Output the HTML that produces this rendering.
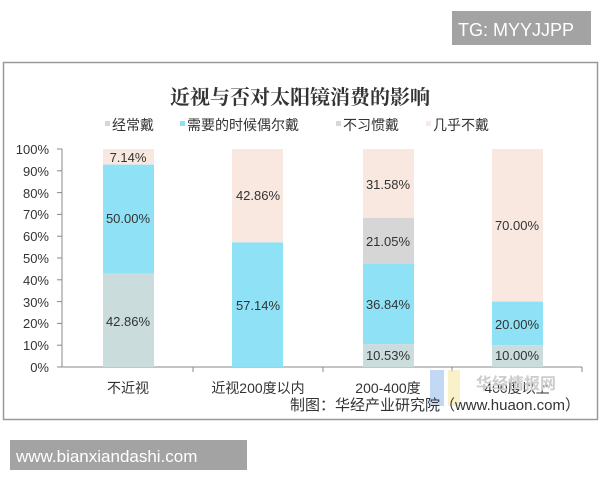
<!DOCTYPE html>
<html><head><meta charset="utf-8"><style>
body{margin:0;background:#fff;width:600px;height:480px;overflow:hidden}
</style></head><body>
<svg width="600" height="480" xmlns="http://www.w3.org/2000/svg" font-family="Liberation Sans, Noto Sans CJK SC, sans-serif">
<rect x="452" y="11" width="139" height="34" fill="#a3a3a3"/>
<text x="458" y="36" font-size="18" fill="#fff">TG: MYYJJPP</text>
<rect x="3.5" y="62.5" width="594" height="357" fill="#fff" stroke="#999" stroke-width="1.5"/>
<text x="300" y="104" font-size="20" font-weight="bold" text-anchor="middle" fill="#333" font-family="Liberation Serif, Noto Serif CJK SC, serif">近视与否对太阳镜消费的影响</text>
<g font-size="14" fill="#333">
<rect x="105" y="121" width="5" height="5" fill="#d0d8d8"/><text x="112" y="130">经常戴</text>
<rect x="180" y="121" width="5" height="5" fill="#8fdff2"/><text x="187" y="130">需要的时候偶尔戴</text>
<rect x="336" y="121" width="5" height="5" fill="#d8d8d8"/><text x="343" y="130">不习惯戴</text>
<rect x="426" y="121" width="5" height="5" fill="#f6eae4"/><text x="433" y="130">几乎不戴</text>
</g>
<g font-size="13" fill="#333" text-anchor="end">
<text x="49" y="154">100%</text><text x="49" y="176">90%</text><text x="49" y="198">80%</text><text x="49" y="219">70%</text><text x="49" y="241">60%</text><text x="49" y="263">50%</text><text x="49" y="285">40%</text><text x="49" y="307">30%</text><text x="49" y="328">20%</text><text x="49" y="350">10%</text><text x="49" y="372">0%</text>
</g>
<g stroke="#888" stroke-width="1">
<line x1="62" y1="149" x2="62" y2="367"/>
<line x1="57" y1="149" x2="62" y2="149"/><line x1="57" y1="170.8" x2="62" y2="170.8"/><line x1="57" y1="192.6" x2="62" y2="192.6"/><line x1="57" y1="214.4" x2="62" y2="214.4"/><line x1="57" y1="236.2" x2="62" y2="236.2"/><line x1="57" y1="258" x2="62" y2="258"/><line x1="57" y1="279.8" x2="62" y2="279.8"/><line x1="57" y1="301.6" x2="62" y2="301.6"/><line x1="57" y1="323.4" x2="62" y2="323.4"/><line x1="57" y1="345.2" x2="62" y2="345.2"/>
<line x1="57" y1="367" x2="582" y2="367"/>
<line x1="193" y1="367" x2="193" y2="372"/><line x1="323" y1="367" x2="323" y2="372"/><line x1="452" y1="367" x2="452" y2="372"/><line x1="582" y1="367" x2="582" y2="372"/>
</g>
<rect x="103" y="149" width="51" height="15.6" fill="#f8e8e0"/>
<rect x="103" y="164.6" width="51" height="109" fill="#8fe2f6"/>
<rect x="103" y="273.6" width="51" height="93.4" fill="#cadcdc"/>
<rect x="232" y="149" width="51" height="93.4" fill="#f8e8e0"/>
<rect x="232" y="242.4" width="51" height="124.6" fill="#8fe2f6"/>
<rect x="363" y="149" width="51" height="68.9" fill="#f8e8e0"/>
<rect x="363" y="217.9" width="51" height="45.9" fill="#d6d6d6"/>
<rect x="363" y="263.8" width="51" height="80.3" fill="#8fe2f6"/>
<rect x="363" y="344.1" width="51" height="22.9" fill="#cadcdc"/>
<rect x="492" y="149" width="51" height="152.6" fill="#f8e8e0"/>
<rect x="492" y="301.6" width="51" height="43.6" fill="#8fe2f6"/>
<rect x="492" y="345.2" width="51" height="21.8" fill="#cadcdc"/>
<g font-size="13" fill="#333" text-anchor="middle">
<text x="128" y="162">7.14%</text><text x="128" y="223">50.00%</text><text x="128" y="326">42.86%</text>
<text x="258" y="200">42.86%</text><text x="258" y="310">57.14%</text>
<text x="388" y="189">31.58%</text><text x="388" y="246">21.05%</text><text x="388" y="309">36.84%</text><text x="388" y="360">10.53%</text>
<text x="517" y="230">70.00%</text><text x="517" y="329">20.00%</text><text x="517" y="360">10.00%</text>
</g>
<g font-size="14" fill="#333" text-anchor="middle">
<text x="128" y="393">不近视</text><text x="258" y="393">近视200度以内</text><text x="388" y="393">200-400度</text><text x="517" y="393">400度以上</text>
</g>
<rect x="430" y="370" width="14" height="36" fill="#a9c8f0" opacity="0.7"/>
<rect x="448" y="370" width="12" height="36" fill="#f6ecb0" opacity="0.7"/>
<text x="476" y="389" font-size="16" fill="#ccc" font-weight="bold">华经情报网</text>
<text x="580" y="410" font-size="15" fill="#333" text-anchor="end">制图：华经产业研究院（www.huaon.com）</text>
<rect x="10" y="440" width="237" height="30" fill="#a3a3a3"/>
<text x="16" y="462" font-size="17" fill="#fff">www.bianxiandashi.com</text>
</svg>
</body></html>
